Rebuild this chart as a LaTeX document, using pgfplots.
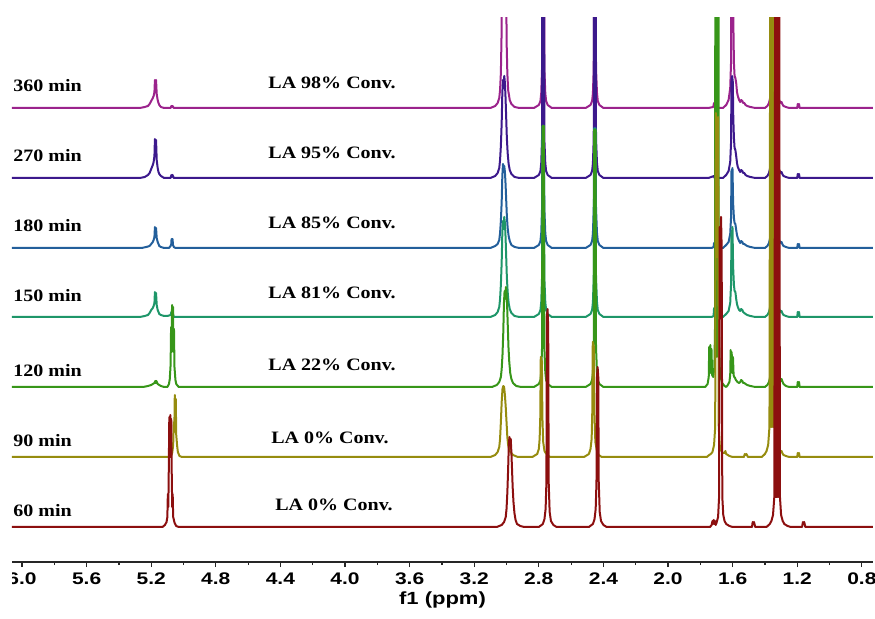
\documentclass[border=0pt]{standalone}
\usepackage{pgfplots}
\pgfplotsset{compat=1.18}
\usepackage{fontspec}
\setmainfont{Liberation Serif}[FakeStretch=1.15]
\setsansfont{Liberation Sans}[FakeStretch=1.25]

\definecolor{cA}{RGB}{155,35,140}  % 360 min
\definecolor{cB}{RGB}{60,25,140}   % 270 min
\definecolor{cC}{RGB}{35,95,155}   % 180 min
\definecolor{cD}{RGB}{30,150,105}  % 150 min
\definecolor{cE}{RGB}{55,150,25}   % 120 min
\definecolor{cF}{RGB}{150,140,15}  % 90 min
\definecolor{cG}{RGB}{140,15,15}   % 60 min

\begin{document}
\begin{tikzpicture}
\begin{axis}[
    name=ax,
    scale only axis,
    width=430.5pt, height=272pt,
    x dir=reverse,
    xmin=0.731, xmax=6.062,
    ymin=0, ymax=544,
    axis x line*=bottom,
    axis y line=none,
    x axis line style={-, line width=0.75pt, black!85},
    xtick={0.8,1.2,1.6,2.0,2.4,2.8,3.2,3.6,4.0,4.4,4.8,5.2,5.6,6.0},
    minor x tick num=1,
    tick align=outside,
    major tick length=2.6pt,
    minor tick length=1.6pt,
    tick style={line width=0.6pt, black!85},
    /pgf/number format/assume math mode=true,
    xticklabel style={font=\sffamily\bfseries\fontsize{8.4}{10}\selectfont,
        /pgf/number format/fixed, /pgf/number format/precision=1,
        /pgf/number format/fixed zerofill, yshift=0.5pt},
    xlabel={f1 (ppm)},
    xlabel style={font=\sffamily\bfseries\fontsize{8.8}{11}\selectfont,
        at={(axis description cs:0.5,0)}, anchor=center, yshift=-19pt},
    every axis plot/.append style={line width=1pt, line join=round, mark=none},
]

% 360 min
\addplot[cA, y filter/.expression={y+454}] coordinates {
(6.1,0)(5.27,0)(5.24,1)(5.22,2)(5.21,4)(5.20,7)(5.19,10)(5.185,12)(5.18,16)(5.177,28)(5.174,18)(5.17,28)(5.166,14)(5.16,8)(5.155,5)(5.15,3)(5.14,1)(5.12,0)
(5.08,0)(5.075,2)(5.072,1)(5.068,2)(5.06,0)
(3.10,0)(3.07,2)(3.055,5)(3.045,10)(3.04,18)(3.035,35)(3.03,80)(3.027,300)(3.02,300)(3.015,330)(3.01,300)(3.003,300)(3.0,70)(2.995,35)(2.99,18)(2.98,8)(2.97,4)(2.95,1)(2.92,0)
(2.83,0)(2.80,3)(2.79,7)(2.785,15)(2.78,40)(2.777,600)(2.769,600)(2.766,40)(2.76,15)(2.755,7)(2.745,3)(2.72,0)
(2.51,0)(2.48,3)(2.47,7)(2.465,15)(2.46,40)(2.457,600)(2.449,600)(2.446,40)(2.44,15)(2.435,7)(2.425,3)(2.40,0)
(1.75,0)(1.72,1)(1.715,5)(1.712,1)(1.708,5)(1.70,1)(1.68,0)
(1.66,0)(1.64,3)(1.625,8)(1.615,20)(1.61,45)(1.607,600)(1.599,600)(1.596,90)(1.592,45)(1.588,32)(1.583,30)(1.578,25)(1.573,16)(1.568,12)(1.56,8)(1.553,6)(1.547,8)(1.54,7)(1.535,5)(1.528,5)(1.52,3)(1.51,2)(1.49,1)(1.46,0)
(1.40,0)(1.385,2)(1.375,5)(1.365,12)(1.358,30)(1.354,600)(1.332,600)(1.328,30)(1.32,12)(1.31,7)(1.30,5)(1.297,6)(1.293,4)(1.285,2)(1.27,1)(1.25,0)
(1.20,0)(1.197,4)(1.193,2)(1.189,4)(1.185,0)(0.7,0)
};

% 270 min
\addplot[cB, y filter/.expression={y+384}] coordinates {
(6.1,0)(5.27,0)(5.24,1)(5.22,3)(5.21,5)(5.20,9)(5.19,13)(5.185,16)(5.18,22)(5.177,39)(5.174,24)(5.17,38)(5.166,18)(5.16,10)(5.155,6)(5.15,4)(5.14,2)(5.12,0)
(5.08,0)(5.075,3)(5.072,1)(5.068,3)(5.06,0)
(3.10,0)(3.07,2)(3.055,5)(3.045,10)(3.04,18)(3.035,32)(3.03,55)(3.026,85)(3.022,98)(3.018,90)(3.014,102)(3.01,95)(3.006,80)(3.002,60)(2.998,40)(2.993,25)(2.987,14)(2.98,8)(2.97,4)(2.95,1)(2.92,0)
(2.83,0)(2.80,3)(2.79,7)(2.785,15)(2.78,40)(2.777,600)(2.769,600)(2.766,40)(2.76,15)(2.755,7)(2.745,3)(2.72,0)
(2.51,0)(2.48,3)(2.47,7)(2.465,15)(2.46,40)(2.457,600)(2.449,600)(2.446,40)(2.44,15)(2.435,7)(2.425,3)(2.40,0)
(1.75,0)(1.715,2)(1.712,0)(1.708,2)(1.69,0)
(1.66,0)(1.64,3)(1.625,7)(1.615,16)(1.61,35)(1.607,98)(1.603,102)(1.599,96)(1.596,60)(1.592,40)(1.588,30)(1.583,28)(1.578,22)(1.573,15)(1.568,11)(1.56,8)(1.553,6)(1.547,8)(1.54,7)(1.535,5)(1.528,5)(1.52,3)(1.51,2)(1.49,1)(1.46,0)
(1.40,0)(1.385,2)(1.375,5)(1.365,12)(1.358,30)(1.354,600)(1.332,600)(1.328,30)(1.32,12)(1.31,7)(1.30,5)(1.297,6)(1.293,4)(1.285,2)(1.27,1)(1.25,0)
(1.20,0)(1.197,4)(1.193,2)(1.189,4)(1.185,0)(0.7,0)
};

% 180 min
\addplot[cC, y filter/.expression={y+314}] coordinates {
(6.1,0)(5.26,0)(5.23,1)(5.21,2)(5.20,4)(5.19,6)(5.185,8)(5.18,11)(5.177,21)(5.174,13)(5.17,20)(5.166,10)(5.16,6)(5.155,4)(5.15,2)(5.14,1)(5.12,0)
(5.09,0)(5.08,2)(5.076,4)(5.074,9)(5.071,5)(5.068,9)(5.065,3)(5.06,1)(5.05,0)
(3.10,0)(3.07,2)(3.055,4)(3.045,8)(3.04,15)(3.035,27)(3.03,46)(3.026,72)(3.022,84)(3.018,76)(3.014,82)(3.01,76)(3.006,64)(3.002,48)(2.998,32)(2.993,20)(2.987,12)(2.98,7)(2.97,3)(2.95,1)(2.92,0)
(2.83,0)(2.80,3)(2.79,7)(2.785,15)(2.78,40)(2.777,122)(2.769,122)(2.766,40)(2.76,15)(2.755,7)(2.745,3)(2.72,0)
(2.51,0)(2.48,3)(2.47,7)(2.465,15)(2.46,40)(2.457,120)(2.449,120)(2.446,40)(2.44,15)(2.435,7)(2.425,3)(2.40,0)
(1.73,0)(1.718,1)(1.715,5)(1.712,1)(1.708,5)(1.705,1)(1.69,0)
(1.66,0)(1.64,3)(1.625,6)(1.615,14)(1.61,30)(1.607,78)(1.604,50)(1.601,80)(1.597,45)(1.592,30)(1.588,25)(1.583,24)(1.578,18)(1.573,13)(1.568,10)(1.56,7)(1.553,5)(1.547,7)(1.54,6)(1.535,4)(1.528,4)(1.52,3)(1.51,2)(1.49,1)(1.46,0)
(1.40,0)(1.385,2)(1.375,5)(1.365,12)(1.358,30)(1.354,600)(1.332,600)(1.328,30)(1.32,12)(1.31,7)(1.30,5)(1.297,6)(1.293,4)(1.285,2)(1.27,1)(1.25,0)
(1.20,0)(1.197,4)(1.193,2)(1.189,4)(1.185,0)(0.7,0)
};

% 150 min
\addplot[cD, y filter/.expression={y+245}] coordinates {
(6.1,0)(5.27,0)(5.24,1)(5.22,2)(5.21,4)(5.20,7)(5.19,9)(5.185,11)(5.18,14)(5.177,25)(5.174,16)(5.17,24)(5.166,12)(5.16,7)(5.155,5)(5.15,3)(5.14,2)(5.12,1)(5.10,1)
(5.08,2)(5.075,5)(5.072,3)(5.068,5)(5.06,0)
(3.10,0)(3.07,2)(3.055,5)(3.045,10)(3.04,18)(3.035,32)(3.03,55)(3.026,84)(3.022,96)(3.018,88)(3.014,100)(3.01,94)(3.006,80)(3.002,60)(2.998,40)(2.993,25)(2.987,14)(2.98,8)(2.97,4)(2.95,1)(2.92,0)
(2.83,0)(2.80,3)(2.79,7)(2.785,15)(2.78,40)(2.777,191)(2.769,191)(2.766,40)(2.76,15)(2.755,7)(2.745,3)(2.72,0)
(2.51,0)(2.48,3)(2.47,7)(2.465,15)(2.46,40)(2.457,188)(2.449,188)(2.446,40)(2.44,15)(2.435,7)(2.425,3)(2.40,0)
(1.73,0)(1.718,1)(1.715,9)(1.712,2)(1.708,9)(1.705,1)(1.69,0)
(1.66,0)(1.64,3)(1.625,6)(1.615,14)(1.61,32)(1.607,86)(1.604,55)(1.601,90)(1.597,50)(1.592,32)(1.588,26)(1.583,25)(1.578,18)(1.573,13)(1.568,10)(1.56,7)(1.553,6)(1.547,8)(1.54,7)(1.535,5)(1.528,4)(1.52,3)(1.51,2)(1.49,1)(1.46,0)
(1.40,0)(1.385,2)(1.375,5)(1.365,12)(1.358,30)(1.354,600)(1.332,600)(1.328,30)(1.32,12)(1.31,7)(1.30,5)(1.297,6)(1.293,4)(1.285,2)(1.27,1)(1.25,0)
(1.20,0)(1.197,5)(1.193,2)(1.189,5)(1.185,0)(0.7,0)
};

% 120 min
\addplot[cE, y filter/.expression={y+175}] coordinates {
(6.1,0)(5.25,0)(5.22,1)(5.20,2)(5.19,3)(5.18,4)(5.175,6)(5.172,4)(5.168,6)(5.16,3)(5.14,1)(5.12,0)
(5.10,0)(5.09,3)(5.085,8)(5.08,22)(5.077,60)(5.074,35)(5.071,82)(5.068,50)(5.065,80)(5.062,35)(5.059,58)(5.056,20)(5.05,7)(5.045,3)(5.03,0)
(3.09,0)(3.06,2)(3.045,5)(3.035,10)(3.03,18)(3.025,32)(3.02,55)(3.016,84)(3.012,96)(3.008,88)(3.004,100)(3.0,94)(2.996,80)(2.992,60)(2.988,40)(2.983,25)(2.977,14)(2.97,8)(2.96,4)(2.94,1)(2.91,0)
(2.83,0)(2.80,3)(2.79,7)(2.785,15)(2.78,40)(2.777,261)(2.769,261)(2.766,40)(2.76,15)(2.755,7)(2.745,3)(2.72,0)
(2.51,0)(2.48,3)(2.47,7)(2.465,15)(2.46,40)(2.457,257)(2.449,257)(2.446,40)(2.44,15)(2.435,7)(2.425,3)(2.40,0)
(1.77,0)(1.755,3)(1.748,10)(1.745,40)(1.742,14)(1.738,42)(1.735,14)(1.731,38)(1.727,12)(1.72,10)(1.713,20)(1.709,60)(1.706,700)(1.703,60)(1.697,30)(1.692,60)(1.689,700)(1.686,60)(1.68,20)(1.675,10)(1.665,4)(1.65,1)
(1.64,0)(1.63,2)(1.62,5)(1.615,12)(1.612,37)(1.609,18)(1.606,35)(1.602,14)(1.598,30)(1.594,12)(1.59,10)(1.585,9)(1.58,7)(1.57,5)(1.56,4)(1.553,5)(1.547,7)(1.54,6)(1.535,4)(1.528,4)(1.52,3)(1.51,2)(1.49,1)(1.46,0)
(1.40,0)(1.385,2)(1.375,5)(1.365,12)(1.358,30)(1.354,600)(1.332,600)(1.328,30)(1.32,12)(1.31,8)(1.30,6)(1.297,8)(1.293,6)(1.285,3)(1.27,1)(1.25,0)
(1.20,0)(1.197,5)(1.193,2)(1.189,5)(1.185,0)(0.7,0)
};

% 90 min
\addplot[cF, y filter/.expression={y+105}] coordinates {
(6.1,0)(5.08,0)(5.07,4)(5.064,12)(5.06,35)(5.057,25)(5.054,62)(5.051,35)(5.048,58)(5.045,22)(5.04,12)(5.035,5)(5.025,1)(5.01,0)
(3.10,0)(3.07,2)(3.055,5)(3.045,10)(3.04,18)(3.035,35)(3.03,55)(3.025,68)(3.02,71)(3.015,70)(3.01,62)(3.005,50)(3.0,35)(2.995,20)(2.99,12)(2.98,6)(2.96,2)(2.93,0)
(2.84,0)(2.81,3)(2.80,8)(2.795,18)(2.791,40)(2.788,100)(2.781,95)(2.778,40)(2.773,15)(2.765,6)(2.75,2)(2.73,0)
(2.52,0)(2.49,3)(2.48,8)(2.473,18)(2.469,45)(2.466,115)(2.459,110)(2.456,45)(2.45,15)(2.44,6)(2.43,2)(2.41,0)
(1.76,0)(1.745,2)(1.735,3)(1.725,5)(1.715,12)(1.708,30)(1.704,344)(1.700,300)(1.697,200)(1.694,300)(1.690,340)(1.686,30)(1.68,12)(1.67,6)(1.66,4)(1.65,4)(1.645,6)(1.64,3)(1.62,1)(1.60,0)
(1.53,0)(1.525,3)(1.52,2)(1.515,3)(1.505,0)
(1.42,0)(1.40,3)(1.39,6)(1.38,12)(1.372,30)(1.366,600)(1.362,30)(1.359,600)(1.355,30)(1.352,600)(1.348,30)(1.345,600)(1.341,30)(1.338,600)(1.333,40)(1.325,15)(1.315,8)(1.30,5)(1.297,6)(1.293,4)(1.285,2)(1.27,1)(1.25,0)
(1.20,0)(1.197,4)(1.193,2)(1.189,4)(1.185,0)(0.7,0)
};

% 60 min
\addplot[cG, y filter/.expression={y+35}] coordinates {
(6.1,0)(5.13,0)(5.115,2)(5.105,5)(5.10,10)(5.097,33)(5.094,20)(5.091,60)(5.088,110)(5.085,70)(5.082,112)(5.079,70)(5.076,108)(5.073,55)(5.07,20)(5.067,33)(5.064,10)(5.055,4)(5.045,1)(5.03,0)
(3.06,0)(3.03,2)(3.015,5)(3.005,10)(3.0,18)(2.995,34)(2.99,58)(2.986,82)(2.982,90)(2.978,84)(2.974,88)(2.97,75)(2.966,58)(2.962,40)(2.957,25)(2.951,14)(2.944,7)(2.935,3)(2.915,1)(2.89,0)
(2.80,0)(2.775,3)(2.765,8)(2.758,18)(2.753,45)(2.75,210)(2.746,218)(2.742,200)(2.739,45)(2.733,15)(2.725,6)(2.71,2)(2.69,0)
(2.49,0)(2.465,3)(2.455,8)(2.448,18)(2.443,45)(2.44,150)(2.436,160)(2.432,150)(2.429,45)(2.423,15)(2.415,6)(2.40,2)(2.38,0)
(1.74,0)(1.73,2)(1.725,6)(1.721,3)(1.717,7)(1.713,3)(1.709,6)(1.705,2)(1.70,4)(1.69,10)(1.684,30)(1.680,300)(1.676,250)(1.672,310)(1.668,280)(1.664,30)(1.658,12)(1.65,6)(1.64,3)(1.62,1)(1.60,0)
(1.48,0)(1.476,5)(1.472,3)(1.468,5)(1.46,0)
(1.39,0)(1.37,3)(1.36,6)(1.35,12)(1.342,30)(1.336,600)(1.333,30)(1.330,600)(1.327,30)(1.324,600)(1.321,30)(1.318,600)(1.315,30)(1.312,600)(1.307,30)(1.30,12)(1.29,6)(1.28,3)(1.26,1)(1.24,0)
(1.17,0)(1.165,5)(1.161,3)(1.157,5)(1.15,0)(0.7,0)
};

\begin{scope}[font=\bfseries\fontsize{8.7}{10}\selectfont]
\node[anchor=west, inner sep=0pt] at (axis cs:6.056,476) {360 min};
\node[anchor=west, inner sep=0pt] at (axis cs:6.056,406) {270 min};
\node[anchor=west, inner sep=0pt] at (axis cs:6.056,336) {180 min};
\node[anchor=west, inner sep=0pt] at (axis cs:6.056,266) {150 min};
\node[anchor=west, inner sep=0pt] at (axis cs:6.056,191) {120 min};
\node[anchor=west, inner sep=0pt] at (axis cs:6.056,121) {90 min};
\node[anchor=west, inner sep=0pt] at (axis cs:6.056,51) {60 min};
\node at (axis cs:4.08,479) {LA 98\% Conv.};
\node at (axis cs:4.08,409) {LA 95\% Conv.};
\node at (axis cs:4.08,339) {LA 85\% Conv.};
\node at (axis cs:4.08,269) {LA 81\% Conv.};
\node at (axis cs:4.08,197) {LA 22\% Conv.};
\node at (axis cs:4.093,124) {LA 0\% Conv.};
\node at (axis cs:4.068,57) {LA 0\% Conv.};
\end{scope}
\end{axis}
% the reference is cropped at its left edge: hide what lies left of the axis
\fill[white] ([shift={(-20pt,-30pt)}]ax.south west) rectangle ([shift={(-0.01pt,-1pt)}]ax.south west);
\pgfresetboundingbox
\path ([shift={(-6pt,-28.5pt)}]ax.south west) rectangle ([shift={(1pt,9pt)}]ax.north east);
\end{tikzpicture}
\end{document}
